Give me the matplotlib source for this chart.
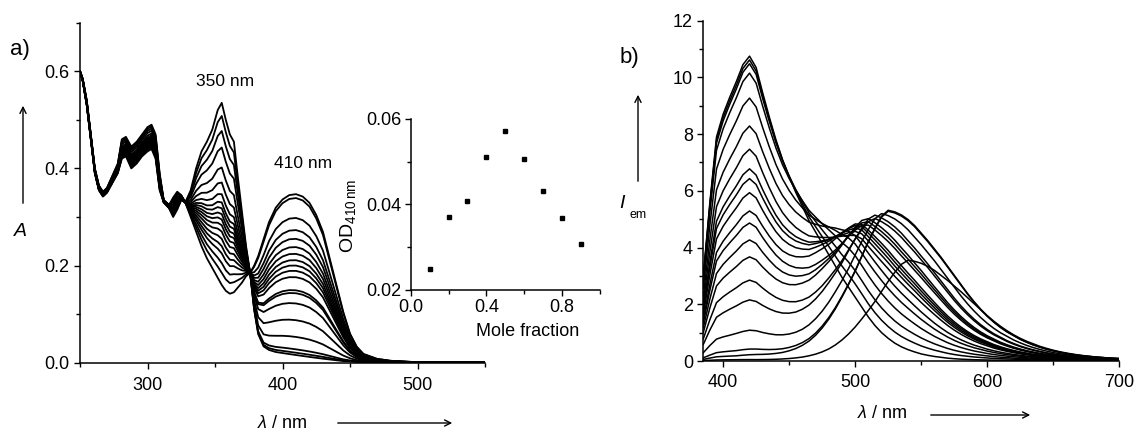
import matplotlib
matplotlib.use("Agg")
import matplotlib.pyplot as plt
import numpy as np
from matplotlib.patches import FancyArrowPatch
from matplotlib.ticker import MultipleLocator

plt.rcParams["font.family"] = ["Liberation Sans", "DejaVu Sans"]
plt.rcParams["mathtext.fontset"] = "custom"
plt.rcParams["mathtext.rm"] = "Liberation Sans"
plt.rcParams["mathtext.it"] = "Liberation Sans:italic"

# --- a) absorption: two limiting spectra ---
abs_wl = [250, 252, 255, 258, 261, 264, 267, 270, 274, 278, 281, 284, 288, 292, 296,
          300, 303, 306, 309, 312, 316, 319, 322, 325, 328, 332, 336, 340, 344, 348,
          352, 355, 358, 361, 364, 367, 370, 373, 376, 379, 382, 386, 390, 395, 400,
          405, 410, 415, 420, 425, 430, 435, 440, 445, 450, 455, 460, 470, 480, 500, 550]
abs_free = [0.600, 0.585, 0.540, 0.470, 0.400, 0.365, 0.352, 0.360, 0.385, 0.410, 0.460,
            0.465, 0.445, 0.455, 0.470, 0.485, 0.490, 0.470, 0.390, 0.335, 0.325, 0.340,
            0.352, 0.345, 0.330, 0.355, 0.400, 0.435, 0.455, 0.480, 0.520, 0.535, 0.500,
            0.470, 0.455, 0.380, 0.310, 0.240, 0.185, 0.110, 0.060, 0.035, 0.028, 0.024,
            0.022, 0.020, 0.018, 0.016, 0.014, 0.012, 0.010, 0.008, 0.006, 0.004, 0.003,
            0.002, 0.001, 0.000, 0.000, 0.000, 0.000]
abs_bound = [0.600, 0.580, 0.530, 0.460, 0.390, 0.355, 0.342, 0.350, 0.370, 0.390, 0.420,
             0.425, 0.400, 0.410, 0.425, 0.435, 0.440, 0.420, 0.355, 0.330, 0.318, 0.300,
             0.315, 0.335, 0.330, 0.300, 0.270, 0.240, 0.215, 0.195, 0.175, 0.160, 0.148,
             0.142, 0.145, 0.155, 0.165, 0.178, 0.185, 0.200, 0.220, 0.255, 0.290, 0.320,
             0.337, 0.346, 0.348, 0.343, 0.330, 0.305, 0.270, 0.215, 0.160, 0.105, 0.060,
             0.033, 0.018, 0.008, 0.004, 0.001, 0.000]
# per-curve absorbance at 355 nm and 410 nm
a355 = [0.535, 0.508, 0.477, 0.443, 0.402, 0.371, 0.347, 0.330, 0.318, 0.306,
        0.295, 0.283, 0.270, 0.255, 0.240, 0.225, 0.205, 0.185, 0.160]
a410 = [0.0158, 0.0205, 0.0275, 0.053, 0.0875, 0.122, 0.143, 0.149, 0.176, 0.189,
        0.200, 0.211, 0.224, 0.238, 0.255, 0.273, 0.298, 0.339, 0.347]
isosbestic = 376

# inset: Job plot
mole_frac = [0.1, 0.2, 0.3, 0.4, 0.5, 0.6, 0.7, 0.8, 0.9]
od410 = [0.0249, 0.0371, 0.0409, 0.0510, 0.0572, 0.0506, 0.0432, 0.0368, 0.0307]

# --- b) emission: blue band (top curve) and normalised green band shape ---
em_wl = np.arange(385, 705, 5)
em_blue_band = [3.0, 5.6, 7.9, 8.7, 9.3, 9.85, 10.45, 10.75, 10.35, 9.45, 8.6, 7.8, 7.1,
                6.5, 5.95, 5.45, 4.95, 4.55, 4.15, 3.75, 3.35, 2.95, 2.6, 2.25, 1.9, 1.55,
                1.25, 1.0, 0.8, 0.63, 0.5, 0.4, 0.32, 0.25, 0.2, 0.16, 0.13, 0.1, 0.08,
                0.065, 0.055, 0.045, 0.04, 0.035, 0.03, 0.028, 0.026, 0.024, 0.022, 0.02,
                0.019, 0.018, 0.017, 0.016, 0.015, 0.014, 0.013, 0.012, 0.011, 0.01,
                0.009, 0.008, 0.007, 0.006]
# green band, offsets -120 ... +200 nm from its maximum in 5 nm steps
green_shape = [0.0, 0.0, 0.002, 0.004, 0.007, 0.011, 0.016, 0.023, 0.032, 0.045, 0.062,
               0.085, 0.115, 0.155, 0.205, 0.265, 0.335, 0.415, 0.50, 0.59, 0.69, 0.79,
               0.88, 0.96, 1.0, 0.99, 0.97, 0.94, 0.90, 0.85, 0.80, 0.745, 0.69, 0.63,
               0.57, 0.51, 0.45, 0.395, 0.345, 0.30, 0.26, 0.225, 0.195, 0.17, 0.145, 0.125,
               0.107, 0.092, 0.079, 0.068, 0.058, 0.05, 0.043, 0.037, 0.032, 0.028, 0.024,
               0.021, 0.018, 0.016, 0.014, 0.012, 0.011, 0.01, 0.009]
em_blue = [10.75, 10.6, 10.45, 10.1, 9.2, 8.2, 7.4, 6.7, 6.35, 5.85,
           5.2, 4.8, 4.2, 3.6, 2.8, 2.1, 1.05, 0.4, 0.2, 0.05]
em_green = [0.0, 0.5, 1.0, 1.6, 2.2, 2.7, 3.0, 3.3, 3.5, 3.7,
            3.9, 4.1, 4.3, 4.5, 4.7, 4.9, 5.1, 5.25, 5.3, 3.55]
em_center = [500, 500, 500, 500, 500, 500, 505, 505, 505, 505,
             505, 510, 510, 510, 515, 515, 520, 525, 525, 540]

W, H = 1141, 432
fig = plt.figure(figsize=(W / 100, H / 100), dpi=100)


def fpos(x, y):
    return (x / W, 1 - y / H)


def style_axes(ax, pad_x=6, pad_y=3):
    ax.spines["top"].set_visible(False)
    ax.spines["right"].set_visible(False)
    for s in ("left", "bottom"):
        ax.spines[s].set_linewidth(1.1)
    ax.tick_params(which="both", direction="out", width=1.0, labelsize=13)
    ax.tick_params(which="major", length=4.5)
    ax.tick_params(which="minor", length=3)
    ax.tick_params(axis="x", pad=pad_x)
    ax.tick_params(axis="y", pad=pad_y)
    ax.set_facecolor("none")


# ---------------- panel a ----------------
ax_a = fig.add_axes([80 / W, 1 - 362.7 / H, 405 / W, 340 / H])
wl = np.array(abs_wl)
free = np.array(abs_free)
bound = np.array(abs_bound)
i355 = abs_wl.index(355)
i410 = abs_wl.index(410)
for v_uv, v_vis in zip(a355, a410):
    f_uv = (free[i355] - v_uv) / (free[i355] - bound[i355])
    f_vis = (v_vis - free[i410]) / (bound[i410] - free[i410])
    f = np.where(wl < isosbestic, f_uv, f_vis)
    ax_a.plot(wl, free + f * (bound - free), color="black", lw=1.3)
ax_a.set_xlim(250, 550)
ax_a.set_ylim(0, 0.7)
ax_a.set_xticks([300, 400, 500])
ax_a.xaxis.set_minor_locator(MultipleLocator(50))
ax_a.set_yticks([0.0, 0.2, 0.4, 0.6])
ax_a.yaxis.set_minor_locator(MultipleLocator(0.1))
ax_a.set_yticklabels(["0.0", "0.2", "0.4", "0.6"])
style_axes(ax_a)

# inset
ax_in = fig.add_axes([410.7 / W, 1 - 290 / H, 189.3 / W, 171 / H])
ax_in.plot(mole_frac, od410, ls="none", marker="s", ms=3.2, color="black")
ax_in.set_xlim(0, 1.0)
ax_in.set_ylim(0.02, 0.06)
ax_in.set_xticks([0.0, 0.4, 0.8])
ax_in.xaxis.set_minor_locator(MultipleLocator(0.2))
ax_in.set_yticks([0.02, 0.04, 0.06])
ax_in.yaxis.set_minor_locator(MultipleLocator(0.01))
ax_in.set_xticklabels(["0.0", "0.4", "0.8"])
ax_in.set_yticklabels(["0.02", "0.04", "0.06"])
style_axes(ax_in, pad_x=2, pad_y=2)

# ---------------- panel b ----------------
ax_b = fig.add_axes([703.3 / W, 1 - 361 / H, 416 / W, 340.3 / H])
blue = np.array(em_blue_band)
shape = np.array(green_shape)
for b, g, c in zip(em_blue, em_green, em_center):
    idx = (em_wl - c) // 5 + 24
    ok = (idx >= 0) & (idx < len(shape))
    green = np.zeros(len(em_wl))
    green[ok] = shape[idx[ok]]
    ax_b.plot(em_wl, blue * b / em_blue[0] + g * green, color="black", lw=1.1)
ax_b.set_xlim(385, 700)
ax_b.set_ylim(0, 12)
ax_b.set_xticks([400, 500, 600, 700])
ax_b.xaxis.set_minor_locator(MultipleLocator(50))
ax_b.yaxis.set_major_locator(MultipleLocator(2))
ax_b.yaxis.set_minor_locator(MultipleLocator(1))
style_axes(ax_b, pad_x=5)

# ---------------- labels and arrows ----------------
fig.text(*fpos(20, 49), "a)", fontsize=16, ha="center", va="center")
fig.text(*fpos(225, 81), "350 nm", fontsize=12.5, ha="center", va="center")
fig.text(*fpos(303, 164), "410 nm", fontsize=12.5, ha="center", va="center")
fig.text(*fpos(20, 231), "A", fontsize=14, style="italic", ha="center", va="center")
fig.text(*fpos(348, 216), r"OD$_{\mathrm{410\,nm}}$", fontsize=14, rotation=90,
         ha="center", va="center")
fig.text(*fpos(528, 332), "Mole fraction", fontsize=13, ha="center", va="center")
fig.text(*fpos(282, 423), r"$\lambda$ / nm", fontsize=13, ha="center", va="center")

fig.text(*fpos(629, 58), "b)", fontsize=16, ha="center", va="center")
fig.text(*fpos(622, 203), "I", fontsize=14, style="italic", ha="center", va="center")
fig.text(*fpos(638, 215), "em", fontsize=9, ha="center", va="center")
fig.text(*fpos(882, 413), r"$\lambda$ / nm", fontsize=13, ha="center", va="center")

arrows = [((23, 206), (23, 103)), ((335, 423), (455, 423)),
          ((638, 184), (638, 92)), ((928, 415), (1033, 415))]
for start, end in arrows:
    fig.add_artist(FancyArrowPatch(fpos(*start), fpos(*end), transform=fig.transFigure,
                                   arrowstyle="->", mutation_scale=11, lw=1.0,
                                   color="black"))

fig.savefig("out.png", dpi=100)
